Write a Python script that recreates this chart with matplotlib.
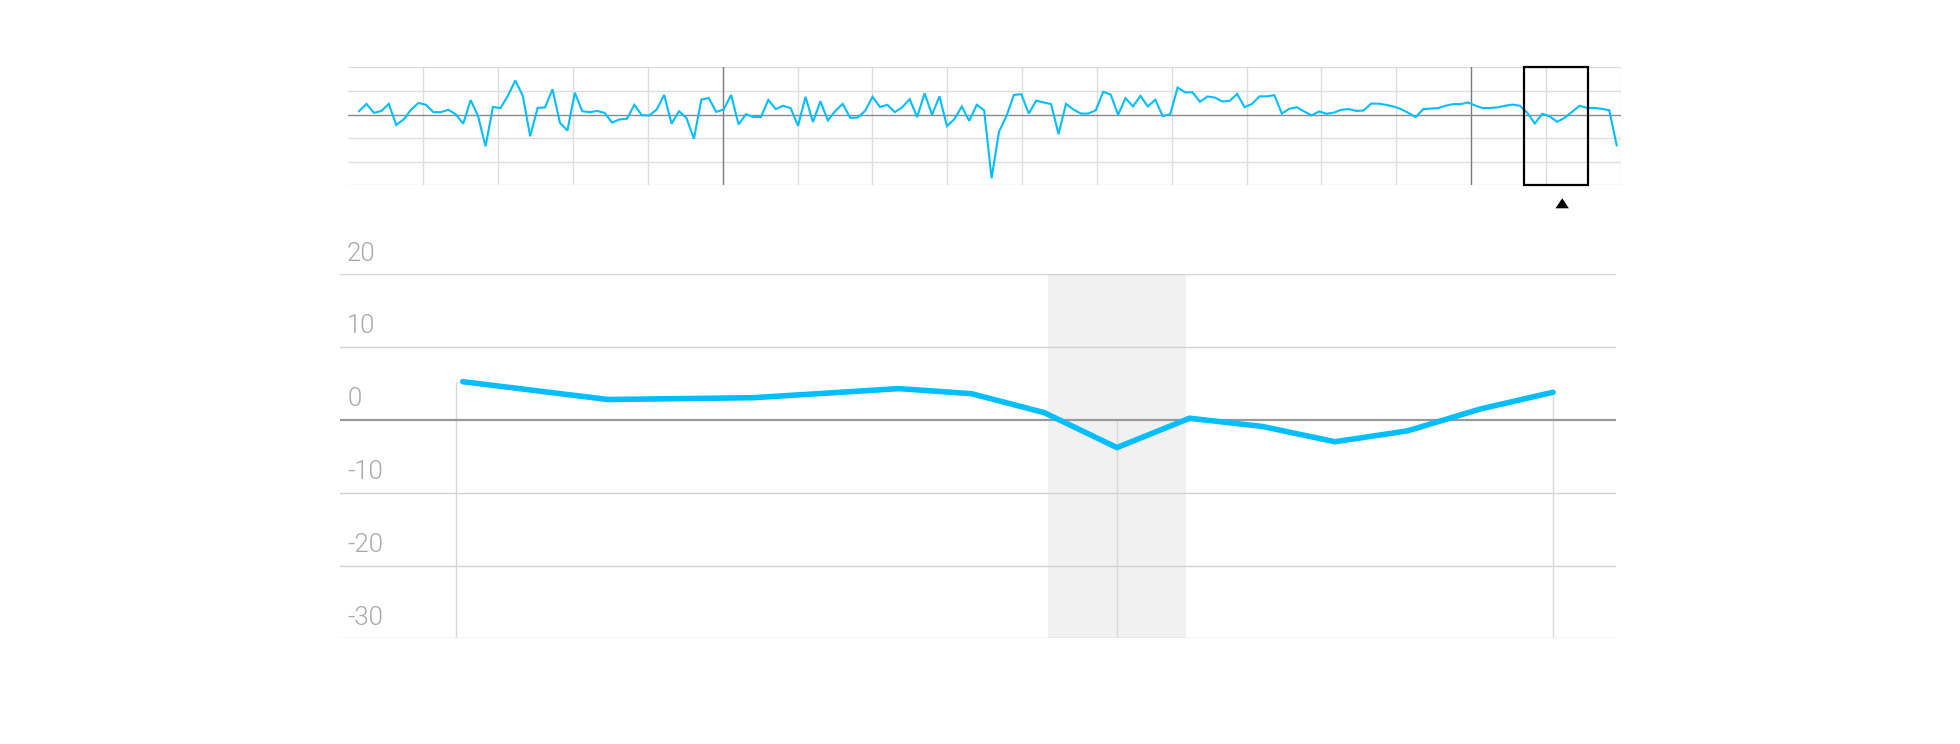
import matplotlib
matplotlib.use("Agg")
import matplotlib.pyplot as plt
from matplotlib.patches import Rectangle, Polygon

# ---------------- data ----------------
overview_values = [
    1.4, 4.5, 0.7, 1.5, 4.5, -4.4, -2.1, 2.1, 4.9, 4.1,
    1.0, 1.0, 2.0, 0.1, -3.9, 6.1, -0.7, -13.5, 3.2, 2.7,
    7.9, 14.4, 8.0, -9.2, 2.8, 3.0, 10.7, -3.5, -6.8, 9.2,
    1.4, 1.0, 1.5, 0.7, -3.4, -2.1, -1.8, 4.1, -0.3, -0.4,
    2.1, 8.3, -3.9, 1.4, -1.5, -10.3, 6.3, 7.0, 1.1, 2.1,
    8.3, -4.2, 0.1, -1.1, -1.1, 6.2, 2.3, 3.7, 2.7, -4.8,
    7.5, -3.2, 5.6, -2.5, 1.5, 4.5, -1.4, -1.3, 1.5, 7.5,
    3.2, 4.1, 1.0, 3.1, 6.5, -1.1, 9.0, -0.1, 7.7, -4.9,
    -2.0, 3.4, -2.7, 4.1, 1.8, -27.0, -7.3, -0.7, 8.3, 8.6,
    0.4, 5.9, 5.1, 4.4, -8.3, 4.5, 2.1, 0.4, 0.4, 1.8,
    9.6, 8.5, -0.1, 6.9, 3.4, 7.9, 3.4, 6.3, -0.7, 0.1,
    11.4, 9.4, 9.4, 5.4, 7.6, 7.2, 5.5, 5.8, 8.7, 3.1,
    4.5, 7.7, 7.7, 8.2, 0.4, 2.4, 3.1, 1.3, -0.4, 1.3,
    0.3, 0.8, 2.0, 2.3, 1.5, 1.7, 4.6, 4.6, 4.1, 3.4,
    2.3, 0.7, -1.1, 2.3, 2.5, 2.7, 3.7, 4.4, 4.4, 5.1,
    3.8, 2.7, 2.8, 3.0, 3.7, 4.2, 3.7, 0.7, -3.8, 0.3,
    -0.8, -3.1, -1.4, 1.1, 3.7, 2.8, 2.8, 2.4, 1.8, -13.0,
]

main_x = [0, 2, 4, 6, 7, 8, 9, 10, 11, 12, 13, 14, 15]
main_values = [5.25, 2.8, 3.05, 4.3, 3.6, 1.0, -3.8, 0.23, -0.9, -3.0, -1.5, 1.5, 3.8]

y_ticks = [20, 10, 0, -10, -20, -30]
y_labels = ["20", "10", "0", "-10", "-20", "-30"]

# main chart markers
main_vlines_x = [-0.09, 9, 15]
main_vlines_top = [5.25, 0, 3.8]
highlight_span = (8.05, 9.95)

# overview annotations
ov_grid_start, ov_grid_step, ov_grid_count = 8.64, 10.057, 17
ov_dark_grid = [4, 14]
box_range = (156.54, 165.1)
marker_x = 161.68

LINE = "#00BEFF"

fig = plt.figure(figsize=(19.6, 7.44), dpi=100)
fig.patch.set_facecolor("white")

# ---------------- overview ----------------
W, H = 1960, 744
ax2 = fig.add_axes([348.3 / W, 1 - 185.3 / H, 1272.4 / W, 118 / H])
ov_x = list(range(len(overview_values)))
ax2.set_xlim(-1.44, 169.54)
ax2.set_ylim(-30, 20)
for s in ax2.spines.values():
    s.set_visible(False)
ax2.set_xticks([]); ax2.set_yticks([])
for yv in y_ticks:
    if yv == 0:
        ax2.axhline(0, color="#8a8a8a", lw=1.0, zorder=2)
    else:
        ax2.axhline(yv, color="#dddddd", lw=1.0, zorder=1)
for k in range(ov_grid_count):
    xv = ov_grid_start + k * ov_grid_step
    c = "#7a7a7a" if k in ov_dark_grid else "#dddddd"
    ax2.axvline(xv, color=c, lw=1.0, zorder=1)
ax2.plot(ov_x, overview_values, color=LINE, lw=1.5, zorder=3, solid_joinstyle="miter")
ax2.add_patch(Rectangle((box_range[0], -30), box_range[1] - box_range[0], 50,
                        fill=False, ec="black", lw=1.6, zorder=4, clip_on=False))
ax2.add_patch(Polygon([[marker_x - 0.9, -39.75], [marker_x + 0.9, -39.75], [marker_x, -35.5]],
                      closed=True, fc="black", ec="none", clip_on=False, zorder=4))

# ---------------- main chart ----------------
ax = fig.add_axes([340 / W, 1 - 638.3 / H, 1276 / W, 364 / H])
ax.set_xlim(-1.688, 15.866)
ax.set_ylim(-30, 20)
for s in ax.spines.values():
    s.set_visible(False)
ax.set_xticks([]); ax.set_yticks([])
ax.axvspan(highlight_span[0], highlight_span[1], color="#f1f1f1", zorder=0, lw=0)
for yv in y_ticks:
    if yv == 0:
        ax.axhline(0, color="#999999", lw=1.6, zorder=2)
    else:
        ax.axhline(yv, color="#d2d2d2", lw=1.0, zorder=1)
for xv, top in zip(main_vlines_x, main_vlines_top):
    ax.plot([xv, xv], [-30, top], color="#d8d8d8", lw=1.0, zorder=1)
ax.plot(main_x, main_values, color=LINE, lw=4.0, zorder=3,
        solid_capstyle="round", solid_joinstyle="miter")

for yv, lab in zip(y_ticks, y_labels):
    ax.text(0.0055, yv + 1.87, lab, transform=ax.get_yaxis_transform(),
            ha="left", va="baseline", fontsize=18.5, color="#a8a8a8",
            family=["Roboto", "DejaVu Sans"], fontweight=300)

fig.savefig("out.png", dpi=100, facecolor="white")
